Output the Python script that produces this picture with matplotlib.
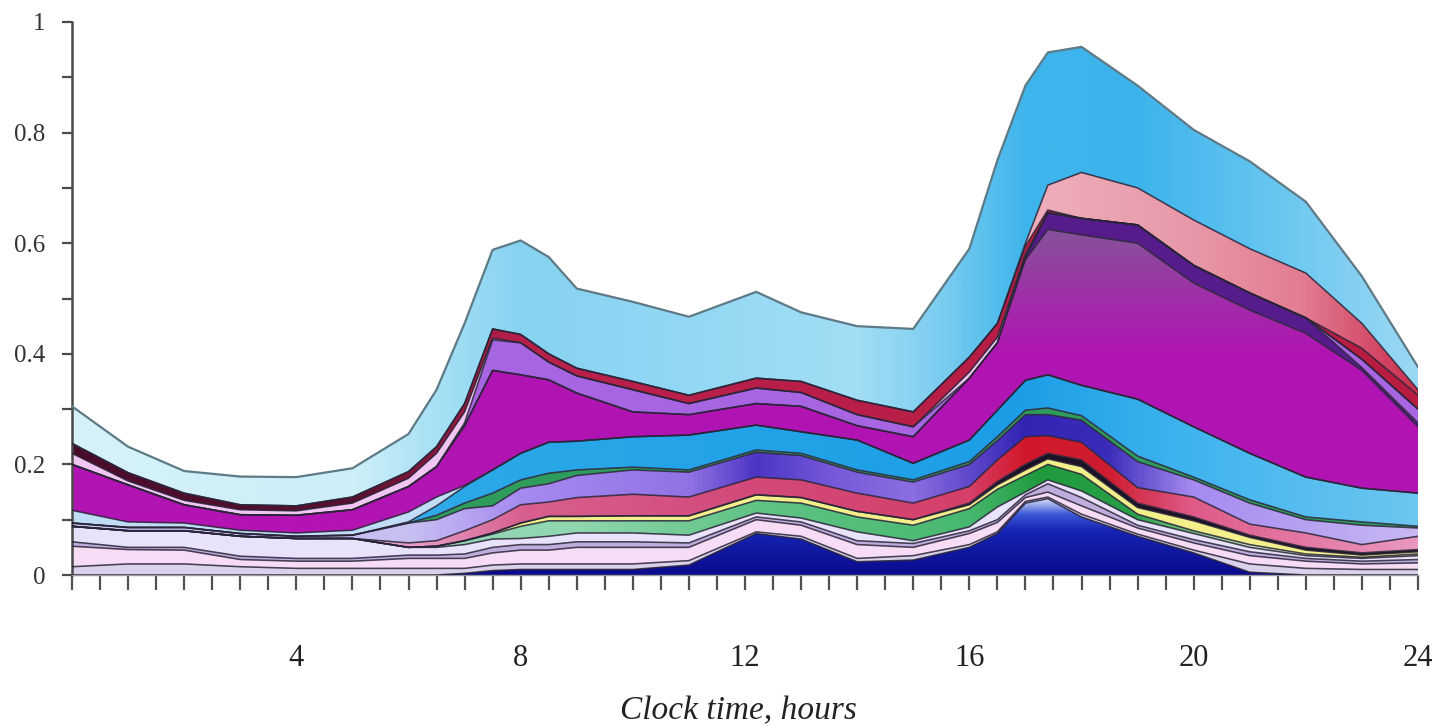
import numpy as np
import matplotlib
matplotlib.use("Agg")
import matplotlib.pyplot as plt
from matplotlib.colors import LinearSegmentedColormap
from matplotlib.ticker import FixedLocator, MultipleLocator

plt.rcParams['font.family'] = ['Liberation Serif', 'DejaVu Serif']

# clock time of the readings (hours)
hours = [0, 1, 2, 3, 4, 5, 6, 6.5, 7, 7.5, 8, 8.5, 9, 10, 11, 12.2, 13, 14, 15,
         16, 16.5, 17, 17.4, 18, 19, 20, 21, 22, 23, 24]

# upper edge of each stacked band, bottom -> top
navy = [0, 0, 0, 0, 0, 0, 0, 0, 0.003, 0.008, 0.01, 0.01, 0.01, 0.01, 0.018, 0.075, 0.065, 0.024, 0.027,
        0.05, 0.075, 0.13, 0.138, 0.105, 0.07, 0.04, 0.005, 0, 0, 0]
greywhite = [0.015, 0.02, 0.02, 0.015, 0.012, 0.012, 0.012, 0.012, 0.012, 0.018, 0.02, 0.02, 0.02, 0.02, 0.026,
             0.078, 0.07, 0.03, 0.035, 0.055, 0.078, 0.133, 0.141, 0.11, 0.074, 0.045, 0.02, 0.012, 0.01, 0.01]
palepink = [0.052, 0.046, 0.045, 0.028, 0.025, 0.025, 0.03, 0.03, 0.03, 0.04, 0.045, 0.045, 0.05, 0.05, 0.05,
            0.1, 0.09, 0.055, 0.05, 0.075, 0.095, 0.14, 0.15, 0.125, 0.085, 0.058, 0.035, 0.025, 0.02, 0.022]
lilacgrey = [0.06, 0.05, 0.05, 0.034, 0.03, 0.03, 0.036, 0.036, 0.038, 0.05, 0.055, 0.055, 0.06, 0.06, 0.058,
             0.105, 0.096, 0.062, 0.057, 0.08, 0.1, 0.145, 0.165, 0.14, 0.09, 0.064, 0.042, 0.03, 0.025, 0.028]
lavender = [0.088, 0.08, 0.08, 0.07, 0.066, 0.066, 0.05, 0.05, 0.055, 0.065, 0.066, 0.07, 0.076, 0.076, 0.072,
            0.112, 0.103, 0.078, 0.062, 0.087, 0.123, 0.15, 0.172, 0.152, 0.1, 0.075, 0.05, 0.035, 0.03, 0.035]
mint = [0.088, 0.08, 0.08, 0.07, 0.066, 0.066, 0.05, 0.052, 0.062, 0.074, 0.088, 0.098, 0.098, 0.098, 0.098,
        0.135, 0.13, 0.105, 0.09, 0.12, 0.155, 0.18, 0.2, 0.182, 0.11, 0.08, 0.055, 0.038, 0.032, 0.038]
yellow = [0.088, 0.08, 0.08, 0.07, 0.066, 0.066, 0.05, 0.052, 0.062, 0.076, 0.094, 0.106, 0.106, 0.107, 0.107,
          0.145, 0.14, 0.115, 0.1, 0.127, 0.163, 0.19, 0.21, 0.196, 0.122, 0.098, 0.068, 0.045, 0.036, 0.042]
black = [0.088, 0.08, 0.08, 0.07, 0.066, 0.066, 0.05, 0.052, 0.062, 0.076, 0.094, 0.106, 0.106, 0.107, 0.107,
         0.145, 0.14, 0.115, 0.1, 0.13, 0.169, 0.2, 0.22, 0.208, 0.13, 0.105, 0.072, 0.05, 0.04, 0.046]
rose = [0.088, 0.08, 0.08, 0.07, 0.066, 0.066, 0.058, 0.062, 0.08, 0.1, 0.127, 0.132, 0.14, 0.146, 0.141,
        0.177, 0.172, 0.148, 0.13, 0.16, 0.208, 0.25, 0.252, 0.24, 0.158, 0.141, 0.092, 0.076, 0.055, 0.07]
lilacpurple = [0.094, 0.086, 0.086, 0.075, 0.07, 0.072, 0.094, 0.1, 0.12, 0.125, 0.157, 0.165, 0.18, 0.19, 0.186,
               0.222, 0.216, 0.186, 0.168, 0.2, 0.243, 0.29, 0.29, 0.28, 0.205, 0.172, 0.13, 0.1, 0.09, 0.085]
green = [0.094, 0.086, 0.086, 0.075, 0.07, 0.072, 0.094, 0.108, 0.13, 0.148, 0.172, 0.184, 0.19, 0.195, 0.19,
         0.226, 0.22, 0.19, 0.172, 0.205, 0.25, 0.298, 0.302, 0.288, 0.215, 0.177, 0.136, 0.105, 0.096, 0.088]
azure = [0.094, 0.086, 0.086, 0.075, 0.07, 0.072, 0.096, 0.125, 0.16, 0.19, 0.22, 0.24, 0.242, 0.25, 0.253,
         0.271, 0.259, 0.244, 0.202, 0.244, 0.298, 0.352, 0.362, 0.343, 0.318, 0.268, 0.22, 0.177, 0.157, 0.148]
lightsky = [0.117, 0.096, 0.094, 0.081, 0.076, 0.081, 0.114, 0.141, 0.162, 0.19, 0.22, 0.24, 0.242, 0.25, 0.253,
            0.271, 0.259, 0.244, 0.202, 0.244, 0.298, 0.352, 0.362, 0.343, 0.318, 0.268, 0.22, 0.177, 0.157, 0.148]
magenta = [0.2, 0.163, 0.127, 0.109, 0.108, 0.118, 0.16, 0.196, 0.27, 0.37, 0.362, 0.353, 0.329, 0.295, 0.29,
           0.31, 0.305, 0.27, 0.25, 0.356, 0.42, 0.57, 0.625, 0.615, 0.6, 0.528, 0.479, 0.437, 0.37, 0.268]
darkpurple = [0.2, 0.163, 0.127, 0.109, 0.108, 0.118, 0.16, 0.196, 0.27, 0.37, 0.362, 0.353, 0.329, 0.295, 0.29,
              0.31, 0.305, 0.27, 0.25, 0.356, 0.42, 0.575, 0.655, 0.645, 0.633, 0.56, 0.51, 0.465, 0.375, 0.275]
violet = [0.2, 0.163, 0.127, 0.109, 0.108, 0.118, 0.16, 0.196, 0.275, 0.425, 0.42, 0.385, 0.36, 0.335, 0.31,
          0.338, 0.33, 0.29, 0.268, 0.356, 0.42, 0.575, 0.655, 0.645, 0.633, 0.56, 0.51, 0.465, 0.39, 0.30]
pinkwhite = [0.22, 0.17, 0.135, 0.118, 0.116, 0.13, 0.175, 0.22, 0.295, 0.428, 0.42, 0.385, 0.36, 0.335, 0.31,
             0.338, 0.33, 0.29, 0.268, 0.367, 0.43, 0.58, 0.655, 0.645, 0.633, 0.56, 0.51, 0.465, 0.39, 0.30]
crimson = [0.238, 0.185, 0.148, 0.127, 0.125, 0.141, 0.187, 0.232, 0.31, 0.445, 0.435, 0.40, 0.374, 0.35, 0.325,
           0.356, 0.35, 0.316, 0.295, 0.394, 0.455, 0.595, 0.66, 0.645, 0.633, 0.56, 0.51, 0.465, 0.41, 0.325]
salmon = [0.238, 0.185, 0.148, 0.127, 0.125, 0.141, 0.187, 0.232, 0.31, 0.445, 0.435, 0.40, 0.374, 0.35, 0.325,
          0.356, 0.35, 0.316, 0.295, 0.394, 0.455, 0.60, 0.705, 0.728, 0.70, 0.642, 0.59, 0.546, 0.455, 0.335]
total = [0.305, 0.232, 0.188, 0.178, 0.177, 0.193, 0.255, 0.335, 0.455, 0.588, 0.605, 0.575, 0.518, 0.494, 0.467,
         0.512, 0.475, 0.45, 0.445, 0.59, 0.75, 0.885, 0.945, 0.955, 0.885, 0.805, 0.748, 0.675, 0.54, 0.376]

edges = [navy, greywhite, palepink, lilacgrey, lavender, mint, yellow, black, rose, lilacpurple,
         green, azure, lightsky, magenta, darkpurple, violet, pinkwhite, crimson, salmon, total]

# plain colour, or ('x'|'y', [(position, colour), ...]) for a gradient fill
fills = [
    ('y', [(0, '#0a0a8c'), (0.08, '#1624b4'), (0.11, '#3a58d6'), (0.135, '#c8d0f6'), (0.15, '#f6f4ff')]),
    '#d9d2ea',
    '#f7dcf5',
    '#bfaedd',
    '#e9e2fb',
    ('x', [(0, '#9ad8b8'), (9, '#90d6b0'), (12, '#62c486'), (16, '#48b870'), (17.3, '#1f9a3c'),
           (19, '#2aa048'), (21, '#c4e4bc'), (24, '#dce8dc')]),
    '#f3f08c',
    '#1c1226',
    ('x', [(0, '#e8b0d8'), (6, '#e6a0c8'), (8, '#d8608f'), (12, '#d24a7a'), (16, '#d6406a'),
           (17, '#d2182a'), (18.5, '#cf1c30'), (20, '#de5a88'), (24, '#e898c0')]),
    ('x', [(0, '#c4c8f2'), (6, '#c8bff2'), (8, '#a68af0'), (11, '#9272e4'), (12.2, '#4b35c4'),
           (13.5, '#7458d8'), (15, '#8d6ee2'), (17, '#3324b4'), (18.5, '#3a2cba'), (20, '#a58af0'),
           (24, '#c8b8f4')]),
    '#2f9c5e',
    ('x', [(0, '#7cc4ee'), (7, '#2aa8e8'), (17, '#1c9ee6'), (20, '#40b4ee'), (24, '#6cc6f0')]),
    '#c0dcf7',
    ('y', [(0, '#b414b4'), (0.4, '#b014b2'), (0.5, '#a02ea8'), (0.6, '#8a4c9c'), (0.7, '#7c5a98')]),
    '#561c8c',
    '#a865e2',
    '#f2c6f2',
    ('x', [(0, '#4a0c2c'), (5, '#5a1030'), (7, '#9c1a44'), (8, '#b8204c'), (24, '#b81c40')]),
    ('x', [(0, '#eca6b4'), (17, '#eeb0bc'), (20, '#e898a8'), (22, '#e27c92'), (24, '#cc3050')]),
    ('x', [(0, '#d6f2f8'), (5, '#cdeff8'), (6.5, '#a6e0f5'), (8, '#86d2f1'), (10, '#8ed6f3'),
           (14, '#a2def5'), (15.5, '#7ccdf0'), (17, '#3fb5ec'), (19, '#3db3ec'), (21, '#5ec2f0'),
           (24, '#9ad8f3')]),
]

fig = plt.figure(figsize=(14.49, 7.28), dpi=100)
ax = fig.add_axes([72 / 1449, 153 / 728, 1346 / 1449, 553 / 728])

tops = np.array(edges)
bands = np.diff(np.vstack([np.zeros(len(hours)), tops]), axis=0)
base_colors = [f if isinstance(f, str) else f[1][0][1] for f in fills]
polys = ax.stackplot(hours, bands, colors=base_colors, linewidth=0)

for poly, f in zip(polys, fills):
    if isinstance(f, str):
        continue
    direction, stops = f
    if direction == 'x':
        cmap = LinearSegmentedColormap.from_list('g', [(p / 24, c) for p, c in stops])
        img = np.linspace(0, 1, 600)[None, :]
        extent = (0, 24, 0, 1)
    else:
        hi = stops[-1][0]
        cmap = LinearSegmentedColormap.from_list('g', [(p / hi, c) for p, c in stops])
        img = np.linspace(0, 1, 400)[:, None]
        extent = (0, 24, 0, hi)
    im = ax.imshow(img, cmap=cmap, extent=extent, origin='lower', aspect='auto',
                   interpolation='bilinear', zorder=1.5)
    im.set_clip_path(poly.get_paths()[0], transform=ax.transData)

# band borders
for row in tops[:-1]:
    ax.plot(hours, row, color='#2a2438', lw=1.15, alpha=0.85, zorder=3)
ax.plot(hours, total, color='#5d7a86', lw=1.6, zorder=3)

ax.set_xlim(0, 24)
ax.set_ylim(0, 1)

for s in ['top', 'right']:
    ax.spines[s].set_visible(False)
ax.spines['left'].set_color('#4a4a4a')
ax.spines['left'].set_linewidth(1.8)
ax.spines['bottom'].set_color('#9a9a9a')
ax.spines['bottom'].set_linewidth(1.0)

ax.yaxis.set_major_locator(FixedLocator([0, 0.2, 0.4, 0.6, 0.8, 1.0]))
ax.set_yticklabels(['0', '0.2', '0.4', '0.6', '0.8', '1'])
ax.yaxis.set_minor_locator(FixedLocator([0.1, 0.3, 0.5, 0.7, 0.9]))
ax.tick_params(axis='y', which='both', direction='out', length=7, width=1.6,
               color='#4a4a4a', labelsize=18, pad=12, labelcolor='#333333')

ax.xaxis.set_major_locator(FixedLocator([4, 8, 12, 16, 20, 24]))
ax.xaxis.set_minor_locator(MultipleLocator(0.5))
ax.tick_params(axis='x', which='both', direction='out', length=11, width=1.6,
               color='#505050', labelsize=22, pad=39, labelcolor='#222222')

ax.set_xlabel('Clock time, hours', fontsize=24, style='italic', color='#222222', va='center')
ax.xaxis.set_label_coords(0.495, -0.246)

fig.savefig('out.png', dpi=100)
